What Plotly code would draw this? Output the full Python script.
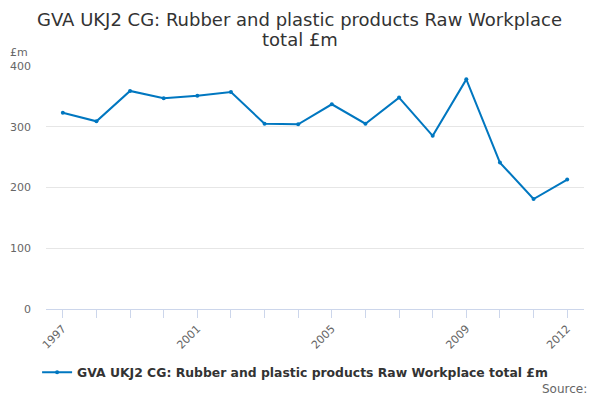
import plotly.graph_objects as go

years = list(range(1997, 2013))
values = [323, 309, 359, 347, 351, 357, 305, 304, 337, 305, 348, 285, 378, 241, 181, 213]
label_years = [1997, 2001, 2005, 2009, 2012]
series_name = "GVA UKJ2 CG: Rubber and plastic products Raw Workplace total £m"
title_lines = ["GVA UKJ2 CG: Rubber and plastic products Raw Workplace", "total £m"]

ticktext = [str(y) if y in label_years else "" for y in years]

fig = go.Figure()
fig.add_trace(go.Scatter(
    x=years, y=values, mode="lines+markers", name=series_name,
    line=dict(color="#0077c0", width=2),
    marker=dict(color="#0077c0", size=4),
))

fig.update_layout(
    width=600, height=400,
    paper_bgcolor="white", plot_bgcolor="white",
    margin=dict(l=46, r=16, t=66, b=89),
    font=dict(family="DejaVu Sans", color="#333333"),
    showlegend=True,
    legend=dict(orientation="h", x=0.463, xanchor="center", y=-0.2, yanchor="top",
                itemwidth=30,
                font=dict(size=12.4, color="#333333", weight="bold")),
    xaxis=dict(
        range=[1996.5, 2012.5], tickmode="array", tickvals=years, ticktext=ticktext,
        tickangle=-45, ticks="outside", ticklen=8, tickcolor="#ccd6eb",
        showline=True, linecolor="#ccd6eb", linewidth=1, showgrid=False,
        tickfont=dict(size=11, color="#666666"), zeroline=False, automargin=False,
    ),
    yaxis=dict(
        range=[0, 400], tickvals=[0, 100, 200, 300, 400],
        showgrid=True, gridcolor="#e6e6e6", gridwidth=1, zeroline=False,
        tickfont=dict(size=11, color="#666666"), ticks="", ticklabelstandoff=14,
        automargin=False,
    ),
    annotations=[
        dict(text=title_lines[0], xref="paper", yref="paper", x=0.472, y=1.1918,
             xanchor="center", yanchor="middle", showarrow=False,
             font=dict(size=18, color="#333333")),
        dict(text=title_lines[1], xref="paper", yref="paper", x=0.472, y=1.1102,
             xanchor="center", yanchor="middle", showarrow=False,
             font=dict(size=18, color="#333333")),
        dict(text="£m", xref="paper", yref="paper", x=-0.07, y=1.0, yshift=14,
             xanchor="left", yanchor="middle", showarrow=False,
             font=dict(size=11, color="#666666")),
        dict(text="Source:", xref="paper", yref="paper", x=1.01, y=-0.33,
             xanchor="right", yanchor="middle", showarrow=False,
             font=dict(size=12, color="#666666")),
    ],
)

fig.write_html("out.html", config={"displayModeBar": False},
               post_script="document.body.style.margin='0';document.body.style.overflow='hidden';")
